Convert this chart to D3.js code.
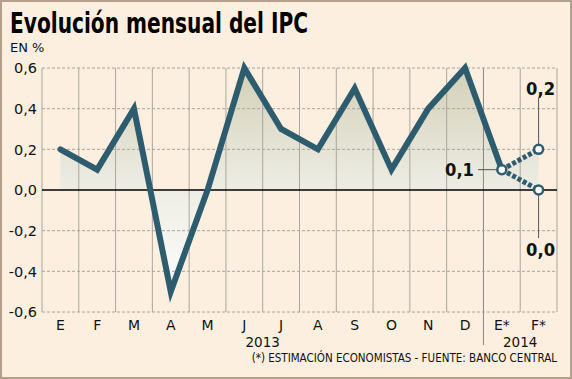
<!DOCTYPE html>
<html><head><meta charset="utf-8">
<script src="https://cdn.jsdelivr.net/npm/d3@7/dist/d3.min.js"></script>
<style>
html,body{margin:0;padding:0;background:#fcefdf;}
svg{display:block;}
text{font-family:"DejaVu Sans",sans-serif;}
</style></head>
<body>
<script>
const months = ["E","F","M","A","M","J","J","A","S","O","N","D","E*","F*"];
const values = [0.2,0.1,0.4,-0.5,0.0,0.6,0.3,0.2,0.5,0.1,0.4,0.6,0.1];
const projHigh = [0.1,0.2];
const projLow = [0.1,0.0];
const yTicks = [-0.6,-0.4,-0.2,0.0,0.2,0.4,0.6];
const yearLabels = [{label:"2013", after:5},{label:"2014", after:12}];
const title = "Evolución mensual del IPC";
const unit = "EN %";
const source = "(*) ESTIMACIÓN ECONOMISTAS - FUENTE: BANCO CENTRAL";

const W = 572, H = 379;
const svg = d3.select("body").append("svg").attr("width",W).attr("height",H);
svg.append("rect").attr("x",1).attr("y",1).attr("width",W-2).attr("height",H-2)
  .attr("fill","#fcefdf").attr("stroke","#b49e8c").attr("stroke-width",2);

const keys = months.map((m,i)=>i);
const x = d3.scaleBand().domain(keys).range([42,557]).padding(0);
const y = d3.scaleLinear().domain([-0.6,0.6]).range([312,68]);
const cx = i => x(i)+x.bandwidth()/2;

const defs = svg.append("defs");
const grad = defs.append("linearGradient").attr("id","fillg")
  .attr("gradientUnits","userSpaceOnUse").attr("x1",0).attr("x2",0)
  .attr("y1",y(0.6)).attr("y2",y(-0.6));
grad.append("stop").attr("offset","0%").attr("stop-color","#d3d0b7");
grad.append("stop").attr("offset","50%").attr("stop-color","#eeede5");
grad.append("stop").attr("offset","100%").attr("stop-color","#ffffff");

// area
const areaData = values.map((v,i)=>({i,v})).concat([{i:13,v:projHigh[1]}]);
svg.append("path").datum(areaData)
  .attr("d", d3.area().x(d=>cx(d.i)).y0(y(0)).y1(d=>y(d.v)))
  .attr("fill","url(#fillg)");

// vertical grid
const bounds = d3.range(0,15).map(i=> i<14 ? x(i) : x.range()[1]);
svg.append("g").selectAll("line").data(bounds).join("line")
  .attr("x1",d=>d).attr("x2",d=>d).attr("y1",y(0.6))
  .attr("y2",(d,i)=> i===12 ? 345 : y(-0.6))
  .attr("stroke",(d,i)=> i===12 ? "#8a8680" : "#aaa59d").attr("stroke-width",1);

// horizontal grid
svg.append("g").selectAll("line").data(yTicks.filter(t=>t!==0)).join("line")
  .attr("x1",42).attr("x2",557).attr("y1",d=>y(d)).attr("y2",d=>y(d))
  .attr("stroke","#a8a49e").attr("stroke-width",1).attr("stroke-dasharray","3,2");
svg.append("line").attr("x1",42).attr("x2",557).attr("y1",y(0)).attr("y2",y(0))
  .attr("stroke","#000").attr("stroke-width",1.3);

// y tick labels
svg.append("g").selectAll("text").data(yTicks).join("text")
  .attr("x",37).attr("y",d=>y(d)).attr("dy","0.36em").attr("text-anchor","end")
  .attr("font-size",14.5).attr("fill","#111")
  .text(d=>d3.format(".1f")(d).replace(".",",").replace("−","-"));

// month labels
svg.append("g").selectAll("text").data(months).join("text")
  .attr("x",(d,i)=>cx(i)).attr("y",330).attr("text-anchor","middle")
  .attr("font-size",14).attr("fill","#111").text(d=>d);
svg.append("g").selectAll("text").data(yearLabels).join("text")
  .attr("x",d=>x(d.after+1)).attr("y",347).attr("text-anchor","middle")
  .attr("font-size",13.5).attr("fill","#111").text(d=>d.label);

// main line
const line = d3.line().x(d=>cx(d.i)).y(d=>y(d.v));
svg.append("path").datum(values.map((v,i)=>({i,v})))
  .attr("d",line).attr("fill","none").attr("stroke","#2e5c6f")
  .attr("stroke-width",6).attr("stroke-linejoin","miter").attr("stroke-linecap","round");

// projections
[projHigh,projLow].forEach(p=>{
  svg.append("path").datum(p.map((v,k)=>({i:12+k,v})))
    .attr("d",line).attr("fill","none").attr("stroke","#2e5c6f")
    .attr("stroke-width",5).attr("stroke-dasharray","4,2");
});

// leaders
const lead = svg.append("g").attr("stroke","#555").attr("stroke-width",1);
lead.append("line").attr("x1",478).attr("x2",cx(12)).attr("y1",y(0.1)).attr("y2",y(0.1));
lead.append("line").attr("x1",cx(13)).attr("x2",cx(13)).attr("y1",98).attr("y2",y(0.2));
lead.append("line").attr("x1",cx(13)).attr("x2",cx(13)).attr("y1",y(0)).attr("y2",238);

// markers
const pts = [{i:12,v:0.1},{i:13,v:projHigh[1]},{i:13,v:projLow[1]}];
svg.append("g").selectAll("circle").data(pts).join("circle")
  .attr("cx",d=>cx(d.i)).attr("cy",d=>y(d.v)).attr("r",4.5)
  .attr("fill","#fff").attr("stroke","#2e5c6f").attr("stroke-width",2.5);

// annotations
const ann = [{t:"0,1",x:474,y:y(0.1),a:"end"},{t:"0,2",x:cx(13)+2,y:89,a:"middle"},{t:"0,0",x:cx(13)+2,y:250,a:"middle"}];
svg.append("g").selectAll("text").data(ann).join("text")
  .attr("x",d=>d.x).attr("y",d=>d.y).attr("dy","0.36em").attr("text-anchor",d=>d.a)
  .attr("font-size",18).attr("font-weight","bold").attr("fill","#111")
  .attr("textLength",29).attr("lengthAdjust","spacingAndGlyphs").text(d=>d.t);

// title etc
svg.append("text").attr("x",10).attr("y",33).attr("font-size",29).attr("font-weight","bold")
  .attr("fill","#000").attr("textLength",298).attr("lengthAdjust","spacingAndGlyphs").text(title);
svg.append("text").attr("x",10).attr("y",52).attr("font-size",13).attr("fill","#111").text(unit);
svg.append("text").attr("x",557).attr("y",362).attr("text-anchor","end").attr("font-size",11.5)
  .attr("fill","#111").style("font-family","'DejaVu Sans Condensed','DejaVu Sans',sans-serif").text(source);
</script>
</body></html>
